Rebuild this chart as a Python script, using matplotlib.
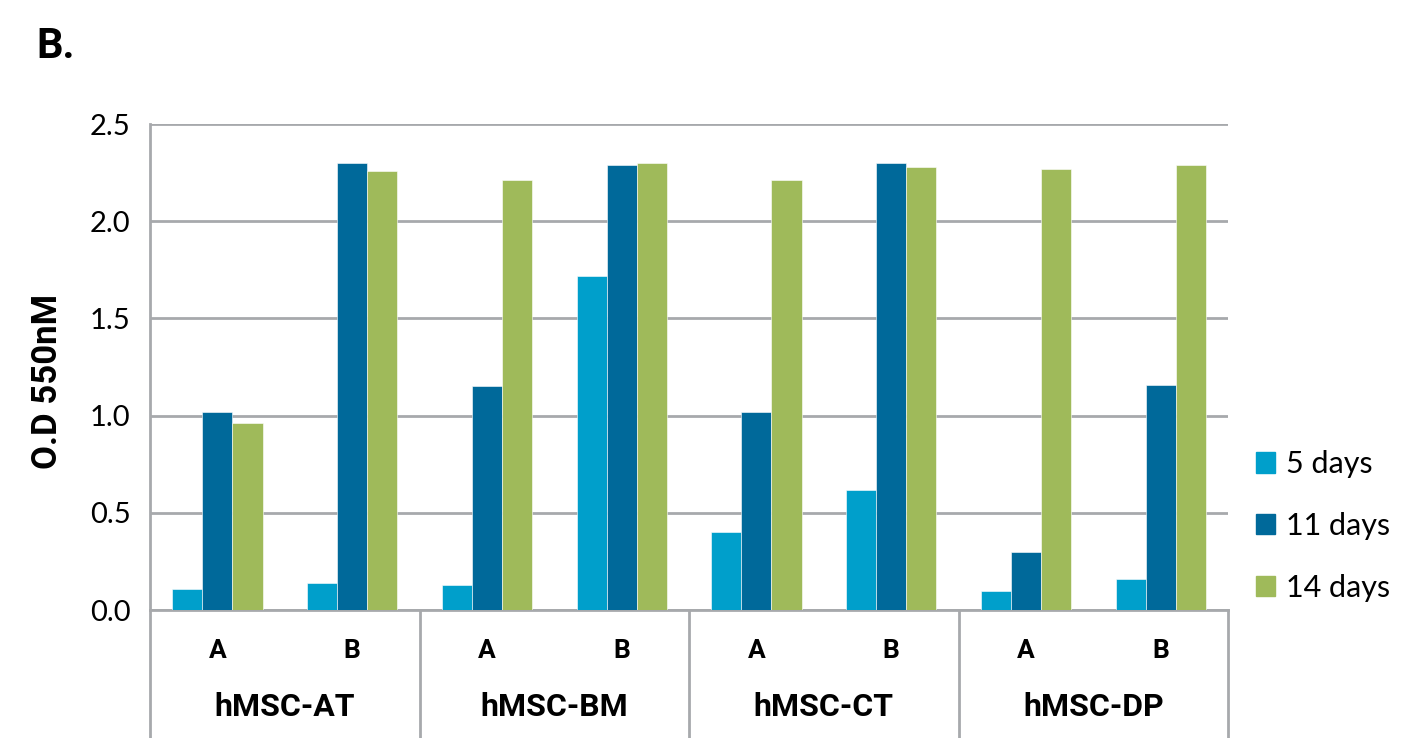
import numpy as np
import matplotlib.pyplot as plt
from matplotlib.patches import Patch

# O.D values
groups = ['hMSC-AT', 'hMSC-BM', 'hMSC-CT', 'hMSC-DP']
subs = ['A', 'B']
series = ['5 days', '11 days', '14 days']
day5 = [0.11, 0.14, 0.13, 1.72, 0.40, 0.62, 0.10, 0.16]
day11 = [1.02, 2.30, 1.15, 2.29, 1.02, 2.30, 0.30, 1.16]
day14 = [0.96, 2.26, 2.21, 2.30, 2.21, 2.28, 2.27, 2.29]
colors = ['#009fcb', '#00699a', '#9fba5a']

narrow = ['Lato', 'DejaVu Sans']
boldf = ['Roboto', 'DejaVu Sans']
grey = '#a7a9ac'

fig = plt.figure(figsize=(14.05, 7.38), dpi=100)
ax = fig.add_axes([0.1068, 0.1734, 0.7673, 0.6585])

x = np.arange(len(day5))
w = 0.223
for i, (vals, c, lab) in enumerate(zip([day5, day11, day14], colors, series)):
    ax.bar(x + (i - 1) * w, vals, width=w, color=c, label=lab, zorder=3,
           edgecolor='white', linewidth=0.4)

ax.set_xlim(-0.5, len(day5) - 0.5)
ax.set_ylim(0, 2.5)
ax.set_yticks(np.arange(0, 2.51, 0.5))
ax.set_yticklabels(['%.1f' % v for v in np.arange(0, 2.51, 0.5)],
                   family=narrow, fontsize=21)
ax.tick_params(axis='y', length=0, pad=14)
ax.set_xticks([])
ax.grid(axis='y', color=grey, lw=2, zorder=0)
for s in ['top', 'right']:
    ax.spines[s].set_visible(False)
ax.spines['left'].set_color(grey)
ax.spines['left'].set_linewidth(2)
ax.spines['bottom'].set_color(grey)
ax.spines['bottom'].set_linewidth(2)

# category axis below the plot
trans = ax.get_xaxis_transform()
for xs in [-0.5, 1.5, 3.5, 5.5, 7.5]:
    ax.plot([xs, xs], [0, -0.3], transform=trans, color=grey, lw=2,
            clip_on=False)
for k in range(len(day5)):
    ax.text(k, -0.084, subs[k % 2], transform=trans, ha='center',
            va='center', family=boldf, fontweight='bold', fontsize=19)
for g, name in enumerate(groups):
    ax.text(2 * g + 0.5, -0.2, name, transform=trans, ha='center',
            va='center', family=boldf, fontweight='bold', fontsize=23)

ax.set_ylabel('O.D 550nM', family=boldf, fontweight='bold', fontsize=25)
ax.yaxis.set_label_coords(-0.08, 0.471)

handles = [Patch(color=c, label=l) for c, l in zip(colors, series)]
ax.legend(handles=handles, loc='center left', bbox_to_anchor=(1.0, 0.173),
          frameon=False, prop={'family': narrow, 'size': 22},
          handlelength=0.65, handleheight=0.65, handletextpad=0.35,
          labelspacing=1.1)

fig.text(0.026, 0.937, 'B.', family=boldf, fontweight='bold', fontsize=30,
         va='center')

fig.savefig('out.png', dpi=100)
